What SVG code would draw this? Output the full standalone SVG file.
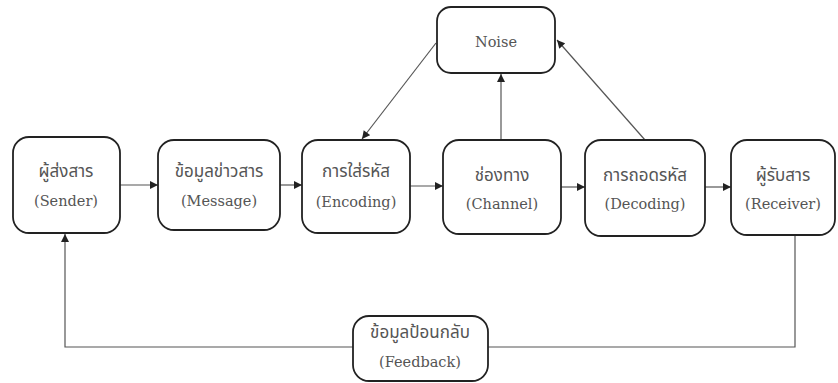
<svg xmlns="http://www.w3.org/2000/svg" width="838" height="383" viewBox="0 0 838 383">
<defs>
<style>
.box{fill:#fff;stroke:#222;stroke-width:1.8}
.ln{fill:none;stroke:#555;stroke-width:1.2}
.th{font-family:"Noto Sans Thai","Liberation Sans","DejaVu Sans",sans-serif;font-size:17px;fill:#555;text-anchor:middle}
.en{font-family:"DejaVu Serif","Liberation Serif",serif;font-size:14.5px;fill:#555;text-anchor:middle}
</style>
<marker id="ah" viewBox="0 0 10 10" refX="10" refY="5" markerWidth="9" markerHeight="8" markerUnits="userSpaceOnUse" orient="auto">
<path d="M0,0 L10,5 L0,10 z" fill="#222"/>
</marker>
</defs>
<rect width="838" height="383" fill="#fff"/>
<g id="connectors">
<line class="ln" x1="120" y1="185" x2="158" y2="185" marker-end="url(#ah)"/>
<line class="ln" x1="280" y1="185" x2="302" y2="185" marker-end="url(#ah)"/>
<line class="ln" x1="410" y1="186" x2="443" y2="186" marker-end="url(#ah)"/>
<line class="ln" x1="561" y1="187" x2="585" y2="187" marker-end="url(#ah)"/>
<line class="ln" x1="705" y1="187" x2="731" y2="187" marker-end="url(#ah)"/>
<line class="ln" x1="436" y1="43" x2="362" y2="139" marker-end="url(#ah)"/>
<line class="ln" x1="501" y1="140" x2="501" y2="74" marker-end="url(#ah)"/>
<line class="ln" x1="645" y1="140" x2="557" y2="40" marker-end="url(#ah)"/>
<polyline class="ln" points="795,236 795,347 65,347 65,234" marker-end="url(#ah)"/>
</g>
<g id="noise"><rect class="box" x="437" y="7" width="118" height="66" rx="14"/><text class="en" x="496" y="47">Noise</text></g>
<g id="sender"><rect class="box" x="13" y="137" width="107" height="96" rx="16"/><text class="th" x="66" y="177">ผู้ส่งสาร</text><text class="en" x="66" y="206">(Sender)</text></g>
<g id="message"><rect class="box" x="158" y="140" width="122" height="90" rx="16"/><text class="th" x="219" y="177">ข้อมูลข่าวสาร</text><text class="en" x="219" y="206">(Message)</text></g>
<g id="encoding"><rect class="box" x="302" y="140" width="108" height="93" rx="16"/><text class="th" x="356" y="177">การใส่รหัส</text><text class="en" x="356" y="207">(Encoding)</text></g>
<g id="channel"><rect class="box" x="443" y="140" width="118" height="94" rx="16"/><text class="th" x="502" y="181">ช่องทาง</text><text class="en" x="502" y="209">(Channel)</text></g>
<g id="decoding"><rect class="box" x="585" y="140" width="120" height="96" rx="16"/><text class="th" x="645" y="181">การถอดรหัส</text><text class="en" x="645" y="209">(Decoding)</text></g>
<g id="receiver"><rect class="box" x="731" y="140" width="104" height="95" rx="16"/><text class="th" x="783" y="181">ผู้รับสาร</text><text class="en" x="783" y="209">(Receiver)</text></g>
<g id="feedback"><rect class="box" x="353" y="316" width="135" height="65" rx="16"/><text class="th" x="420" y="338">ข้อมูลป้อนกลับ</text><text class="en" x="420" y="367">(Feedback)</text></g>
</svg>
